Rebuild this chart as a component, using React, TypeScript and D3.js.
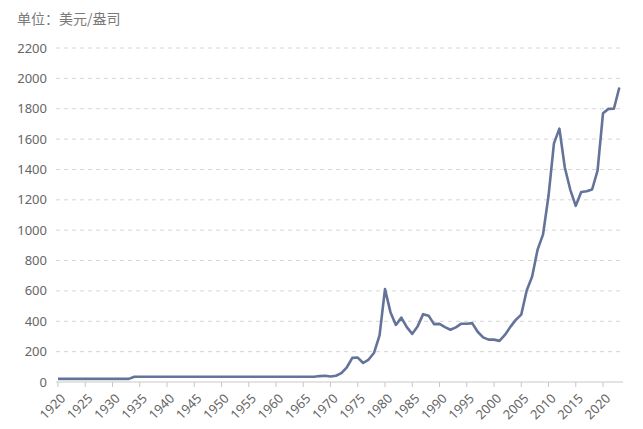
import React from "react";
import * as d3 from "d3";

const startYear = 1920;
const prices: number[] = [
  // 1920-1933
  20.7, 20.7, 20.7, 20.7, 20.7, 20.7, 20.7, 20.7, 20.7, 20.7, 20.7, 20.7, 20.7, 20.7,
  // 1934-1967
  35, 35, 35, 35, 35, 35, 35, 35, 35, 35, 35, 35, 35, 35, 35, 35, 35, 35, 35, 35,
  35, 35, 35, 35, 35, 35, 35, 35, 35, 35, 35, 35, 35, 35,
  // 1968-1979
  39, 41, 36, 41, 58, 97, 159, 161, 125, 148, 193, 307,
  // 1980-1989
  612, 460, 376, 424, 361, 317, 368, 447, 437, 381,
  // 1990-1999
  383, 362, 344, 360, 384, 384, 388, 331, 294, 279,
  // 2000-2009
  279, 271, 310, 363, 409, 444, 603, 695, 872, 972,
  // 2010-2019
  1225, 1572, 1669, 1411, 1266, 1160, 1251, 1257, 1268, 1393,
  // 2020-2023
  1770, 1799, 1800, 1940,
];
const years = prices.map((_, i) => startYear + i);
const yTicks = [0, 200, 400, 600, 800, 1000, 1200, 1400, 1600, 1800, 2000, 2200];
const xTicks = d3.range(1920, 2021, 5);
const unitLabel = "单位：美元/盎司";

const W = 643;
const H = 429;
const left = 58;
const right = 623;
const top = 48;
const bottom = 382;

export default function App() {
  const x = d3.scaleLinear().domain([1920, 2020]).range([left, 603]);
  const y = d3.scaleLinear().domain([0, 2200]).range([bottom, top]);
  const line = d3
    .line<number>()
    .x((_, i) => x(years[i]))
    .y((d) => y(d));
  const font = "'Noto Sans', 'Noto Sans CJK SC', sans-serif";
  return (
    <svg
      width={W}
      height={H}
      style={{ position: "absolute", left: 0, top: 0, background: "#fff" }}
      fontFamily={font}
    >
      <text x={17} y={24} fontSize={14} fill="#7a7a7a" fontFamily="'Noto Sans CJK SC', sans-serif">
        {unitLabel}
      </text>
      {yTicks.map((t) => (
        <g key={t}>
          {t > 0 && (
            <line
              x1={56}
              x2={right}
              y1={y(t)}
              y2={y(t)}
              stroke="#d6d6d6"
              strokeDasharray="4,4"
              strokeWidth={1}
            />
          )}
          <text x={47} y={y(t)} dy="0.35em" textAnchor="end" fontSize={13} fill="#666">
            {t}
          </text>
        </g>
      ))}
      <line x1={56} x2={right} y1={bottom} y2={bottom} stroke="#c8c8c8" strokeWidth={1} />
      {xTicks.map((t) => (
        <g key={t}>
          <line x1={x(t)} x2={x(t)} y1={bottom} y2={bottom + 5} stroke="#c8c8c8" />
          <text
            transform={`translate(${x(t) + 5},${bottom + 14}) rotate(-45)`}
            textAnchor="end"
            dy="0.35em"
            fontSize={13}
            fill="#666"
          >
            {t}
          </text>
        </g>
      ))}
      <path
        d={line(prices) || ""}
        fill="none"
        stroke="#64739a"
        strokeWidth={2.6}
        strokeLinejoin="round"
      />
    </svg>
  );
}
